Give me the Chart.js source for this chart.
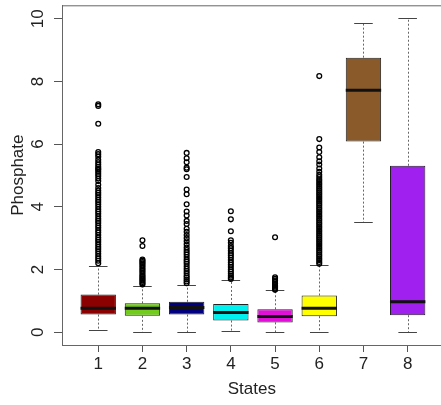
<!DOCTYPE html>
<html>
<head>
<meta charset="utf-8">
<script src="https://cdn.jsdelivr.net/npm/chart.js@4/dist/chart.umd.min.js"></script>
<style>
  body { margin: 0; background: #fff; overflow: hidden; width: 441px; height: 405px; }
</style>
</head>
<body>
<canvas id="box-chart" width="447" height="405"></canvas>
<script>
// boxplot stats, one value per state
const states = [1, 2, 3, 4, 5, 6, 7, 8]
const q1 = [0.56, 0.52, 0.56, 0.37, 0.31, 0.51, 6.08, 0.54]
const q3 = [1.20, 0.92, 0.97, 0.90, 0.73, 1.17, 8.76, 5.31]
const medians = [0.76, 0.76, 0.79, 0.63, 0.50, 0.76, 7.72, 0.97]
const lowWhisker = [0.06, 0, 0, 0.03, 0, 0, 3.50, 0]
const highWhisker = [2.12, 1.48, 1.50, 1.68, 1.33, 2.15, 9.87, 10.02]
const boxColors = ['#8B0000', '#72CC1C', '#000080', '#00F0F0', '#E010D8', '#FFFF00', '#8B5A2B', '#A020F0']

// outliers (open circles)
const out1 = [7.27, 7.22, 6.65, 5.75, 5.68, 5.6, 5.5, 5.42, 5.35, 5.28, 5.22, 5.18, 5.12, 5.05, 4.98, 4.9, 4.82, 4.7, 4.6, 4.52, 4.45, 4.38, 4.3, 4.22, 4.15, 4.08, 4.0, 3.92, 3.85, 3.78, 3.7, 3.62, 3.55, 3.48, 3.4, 3.33, 3.25, 3.18, 3.1, 3.02, 2.95, 2.88, 2.8, 2.72, 2.65, 2.58, 2.5, 2.42, 2.35, 2.28, 2.2]
const out2 = [2.93, 2.75, 2.32, 2.28, 2.24, 2.2, 2.15, 2.1, 2.05, 2.0, 1.95, 1.9, 1.85, 1.8, 1.76, 1.72, 1.68, 1.64, 1.6, 1.56, 1.52]
const out3 = [5.72, 5.55, 5.42, 5.25, 5.2, 4.95, 4.55, 4.4, 4.08, 3.85, 3.72, 3.55, 3.45, 3.3, 3.2, 3.1, 3.0, 2.9, 2.8, 2.7, 2.62, 2.55, 2.48, 2.4, 2.32, 2.25, 2.18, 2.1, 2.02, 1.95, 1.88, 1.8, 1.74, 1.68, 1.62, 1.56]
const out4 = [3.86, 3.6, 3.22, 2.93, 2.85, 2.75, 2.68, 2.6, 2.52, 2.45, 2.38, 2.3, 2.22, 2.15, 2.08, 2.0, 1.93, 1.86, 1.8, 1.74, 1.7]
const out5 = [3.03, 1.75, 1.7, 1.65, 1.6, 1.55, 1.5, 1.46, 1.42, 1.38, 1.35]
const out6 = [8.17, 6.16, 5.89, 5.75, 5.58, 5.45, 5.35, 5.22, 5.12, 5.02, 4.95, 4.88, 4.82, 4.76, 4.7, 4.64, 4.58, 4.52, 4.46, 4.4, 4.34, 4.28, 4.22, 4.16, 4.1, 4.04, 3.98, 3.92, 3.86, 3.8, 3.74, 3.68, 3.62, 3.56, 3.5, 3.44, 3.38, 3.32, 3.26, 3.2, 3.14, 3.08, 3.02, 2.96, 2.9, 2.84, 2.78, 2.72, 2.66, 2.6, 2.54, 2.48, 2.42, 2.36, 2.3, 2.24, 2.18]
const out7 = []
const out8 = []
const outliers = [out1, out2, out3, out4, out5, out6, out7, out8]

const yTickLabels = ['0', '2', '4', '6', '8', '10']
const FONT = "'Liberation Sans', Arial, sans-serif"

// whiskers + medians + top frame line, all positioned through the chart scales
const boxExtras = {
    id: 'boxExtras',
    beforeDatasetsDraw(chart) {
        const {ctx, scales: {x, y}} = chart
        ctx.save()
        ctx.lineWidth = 1
        states.forEach((s, i) => {
            const px = Math.round(x.getPixelForValue(s)) + 0.5
            ctx.strokeStyle = '#666'
            ctx.setLineDash([2, 2])
            ctx.beginPath()
            ctx.moveTo(px, y.getPixelForValue(q3[i]))
            ctx.lineTo(px, y.getPixelForValue(highWhisker[i]))
            ctx.moveTo(px, y.getPixelForValue(q1[i]))
            ctx.lineTo(px, y.getPixelForValue(lowWhisker[i]))
            ctx.stroke()
            ctx.setLineDash([])
            ctx.strokeStyle = '#444'
            const l = x.getPixelForValue(s - 0.21)
            const r = x.getPixelForValue(s + 0.21)
            ctx.beginPath()
            const yh = Math.round(y.getPixelForValue(highWhisker[i])) + 0.5
            const yl = Math.round(y.getPixelForValue(lowWhisker[i])) + 0.5
            ctx.moveTo(l, yh); ctx.lineTo(r, yh)
            ctx.moveTo(l, yl); ctx.lineTo(r, yl)
            ctx.stroke()
        })
        ctx.restore()
    },
    afterDatasetsDraw(chart) {
        const {ctx, scales: {x, y}, chartArea} = chart
        ctx.save()
        ctx.strokeStyle = '#111'
        ctx.lineWidth = 3
        states.forEach((s, i) => {
            const py = y.getPixelForValue(medians[i])
            ctx.beginPath()
            ctx.moveTo(x.getPixelForValue(s - 0.4), py)
            ctx.lineTo(x.getPixelForValue(s + 0.4), py)
            ctx.stroke()
        })
        ctx.strokeStyle = '#666'
        ctx.lineWidth = 1
        ctx.beginPath()
        ctx.moveTo(chartArea.left, chartArea.top + 0.5)
        ctx.lineTo(chartArea.right, chartArea.top + 0.5)
        ctx.stroke()
        ctx.restore()
    },
    afterDraw(chart) {
        // y tick labels, rotated like R does
        const {ctx, scales: {y}} = chart
        ctx.save()
        ctx.fillStyle = '#222'
        ctx.font = '17px ' + FONT
        ctx.textAlign = 'center'
        ctx.textBaseline = 'middle'
        yTickLabels.forEach(t => {
            ctx.save()
            ctx.translate(38, y.getPixelForValue(parseFloat(t)))
            ctx.rotate(-Math.PI / 2)
            ctx.fillText(t, 0, 0)
            ctx.restore()
        })
        ctx.restore()
    }
}

const outlierSets = outliers.map((arr, i) => ({
    type: 'line',
    showLine: false,
    data: arr.map(v => ({x: states[i], y: v})),
    pointStyle: 'circle',
    pointRadius: 2.4,
    pointBorderWidth: 1.3,
    pointBorderColor: '#000',
    pointBackgroundColor: 'rgba(0,0,0,0)',
}))

new Chart(document.querySelector('#box-chart').getContext('2d'), {
    type: 'bar',
    data: {
        datasets: [{
            data: states.map((s, i) => ({x: s, y: [q1[i], q3[i]]})),
            backgroundColor: boxColors,
            borderColor: '#222',
            borderWidth: 1,
            borderSkipped: false,
            categoryPercentage: 0.8,
            barPercentage: 1.0,
        }, ...outlierSets]
    },
    options: {
        responsive: false,
        animation: false,
        plugins: { legend: { display: false }, tooltip: { enabled: false } },
        layout: { padding: { top: 5, left: 0, right: 0, bottom: 0 } },
        scales: {
            x: {
                type: 'linear',
                min: 0.18,
                max: 8.77,
                offset: false,
                afterFit: s => { s.height = 60 },
                grid: { offset: false, drawOnChartArea: false, drawTicks: true, tickLength: 7, color: '#555' },
                border: { display: true, color: '#666' },
                ticks: { stepSize: 1, includeBounds: false, color: '#222', font: { family: FONT, size: 17 }, padding: 2 },
                title: { display: true, text: 'States', color: '#222', font: { family: FONT, size: 17 }, padding: { top: 0, bottom: 5 } }
            },
            y: {
                min: -0.41,
                max: 10.43,
                afterFit: s => { s.width = 62 },
                grid: { drawOnChartArea: false, drawTicks: true, tickLength: 8, color: '#555' },
                border: { display: true, color: '#666' },
                ticks: { stepSize: 2, includeBounds: false, display: false },
                title: { display: true, text: 'Phosphate', color: '#222', font: { family: FONT, size: 17 }, padding: { top: 8, bottom: 0 } }
            }
        }
    },
    plugins: [boxExtras]
})
</script>
</body>
</html>
